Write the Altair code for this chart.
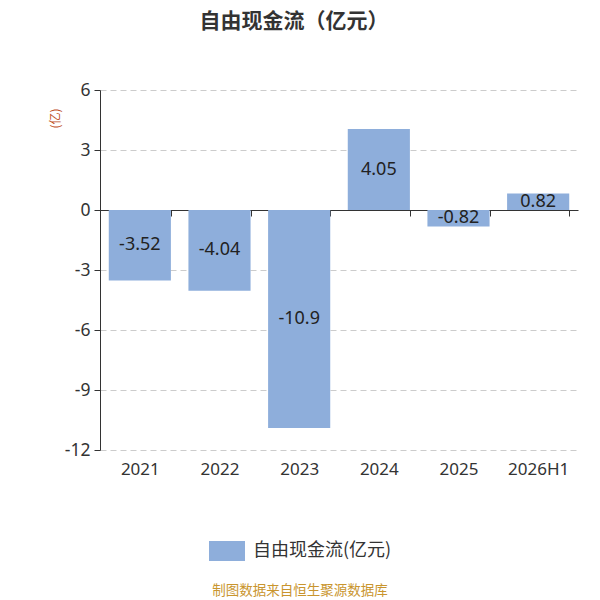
import altair as alt
import pandas as pd

categories = ["2021", "2022", "2023", "2024", "2025", "2026H1"]
values = [-3.52, -4.04, -10.9, 4.05, -0.82, 0.82]
labels = ["-3.52", "-4.04", "-10.9", "4.05", "-0.82", "0.82"]
series_name = "自由现金流(亿元)"
y_ticks = [6, 3, 0, -3, -6, -9, -12]

df = pd.DataFrame({"year": categories, "value": values, "label": labels, "series": series_name})

FONT = "Noto Sans, Noto Sans CJK SC"
CJK = "Noto Sans CJK SC"

x = alt.X("year:N", sort=categories, title=None,
          scale=alt.Scale(paddingInner=0.22, paddingOuter=0.11),
          axis=alt.Axis(orient="bottom", offset=-240, tickBand="extent", labelAngle=0,
                        labelPadding=245, labelFontSize=17, labelColor="#333333",
                        domainColor="#333333", tickColor="#333333", tickSize=6,
                        labelFont=FONT, grid=False))
y = alt.Y("value:Q", title="(亿)",
          scale=alt.Scale(domain=[-12, 6], nice=False),
          axis=alt.Axis(values=y_ticks, labelExpr="toString(datum.value)",
                        labelFontSize=17.5, labelColor="#333333",
                        labelFont=FONT, domainColor="#333333", tickColor="#333333",
                        tickSize=6, labelPadding=4, grid=True, gridDash=[6, 4],
                        gridColor="#cccccc", titleColor="#c0501f", titleFontSize=12,
                        titleFont=CJK, titleFontWeight="normal", titleX=-45, titleY=28,
                        titleAngle=-90, titleAlign="center", titleBaseline="middle"))

bars = alt.Chart(df).mark_bar(color="#8eaedb").encode(
    x=x, y=y,
    color=alt.Color("series:N", scale=alt.Scale(range=["#8eaedb"]),
                    legend=alt.Legend(title=None, orient="none", legendX=117, legendY=451,
                                      symbolType="M-1.8,-1L1.8,-1L1.8,1L-1.8,1Z",
                                      symbolSize=400, symbolStrokeWidth=0,
                                      labelFontSize=18, labelColor="#333333", labelFont=CJK,
                                      labelOffset=16))
)

text = alt.Chart(df).mark_text(fontSize=18, color="#222222", font=FONT).encode(
    x=alt.X("year:N", sort=categories),
    y=alt.Y("mid:Q"),
    text="label:N"
).transform_calculate(mid="datum.value / 2")

footer = alt.Chart(pd.DataFrame({"t": ["制图数据来自恒生聚源数据库"]})).mark_text(
    fontSize=13.5, color="#c9952e", font=CJK, align="center"
).encode(x=alt.value(200), y=alt.value(501), text="t:N")

chart = alt.layer(bars, text, footer).properties(
    width=478, height=360,
    title=alt.TitleParams("自由现金流（亿元）", fontSize=21, fontWeight="bold", color="#333333",
                          font=CJK, anchor="middle", dx=-45, offset=49),
    autosize=alt.AutoSizeParams(type="none"),
    padding={"left": 92, "top": 82, "right": 14, "bottom": 150},
).configure_view(stroke=None)

chart.save("out.html", embed_options={"renderer": "svg", "actions": False})
